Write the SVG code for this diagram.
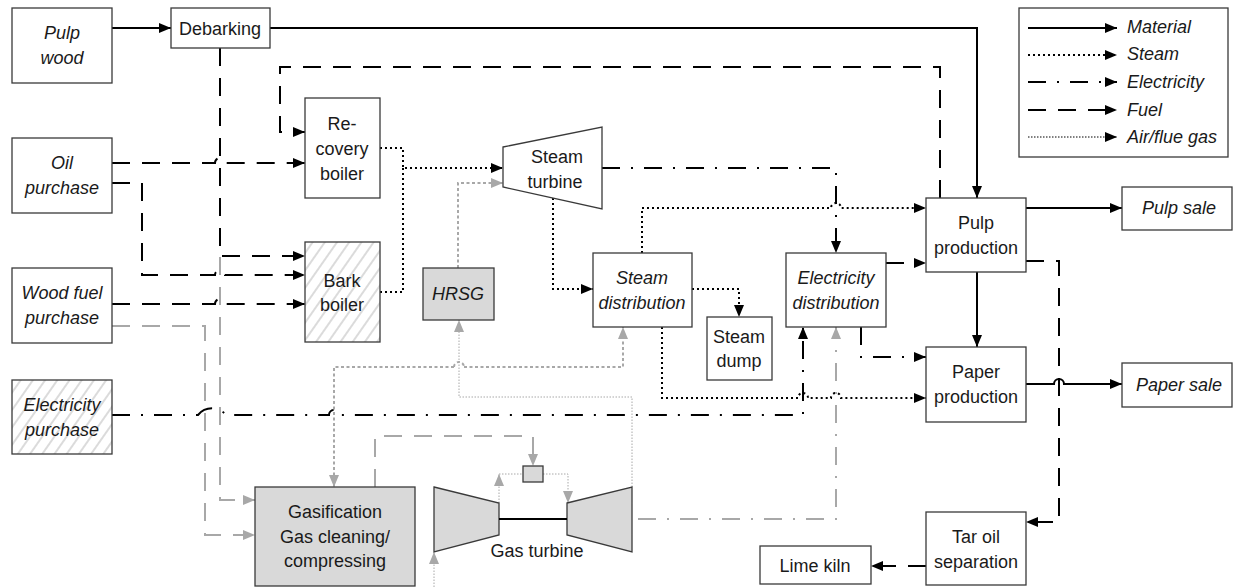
<svg xmlns="http://www.w3.org/2000/svg" width="1235" height="587" viewBox="0 0 1235 587">
<style>
.box{fill:#fff;stroke:#3a3a3a;stroke-width:1.3}
.gbox{fill:#d9d9d9;stroke:#3a3a3a;stroke-width:1.3}
.hbox{fill:url(#hatch);stroke:#3a3a3a;stroke-width:1.3}
.t{font-family:"Liberation Sans",Arial,sans-serif;font-size:18px;fill:#1a1a1a;text-anchor:middle}
.i{font-style:italic}
.l{text-anchor:start}
.c{fill:none;stroke-linejoin:miter}
.mat{stroke:#000;stroke-width:2}
.stm{stroke:#000;stroke-width:2;stroke-dasharray:2 3}
.gstm{stroke:#a8a8a8;stroke-width:2;stroke-dasharray:3 2.5}
.ele{stroke:#000;stroke-width:2;stroke-dasharray:18 11 2 11}
.fuel{stroke:#000;stroke-width:2;stroke-dasharray:18 12}
.air{stroke:#000;stroke-width:1;stroke-dasharray:1.5 1.5}
.g{stroke:#a8a8a8}
.ab{marker-end:url(#ab)}
.ag{marker-end:url(#ag)}
</style>
<defs>
<marker id="ab" markerUnits="userSpaceOnUse" markerWidth="12" markerHeight="10" refX="12" refY="5" orient="auto"><path d="M0,0 L12,5 L0,10 z" fill="#000"/></marker>
<marker id="ag" markerUnits="userSpaceOnUse" markerWidth="12" markerHeight="10" refX="12" refY="5" orient="auto"><path d="M0,0 L12,5 L0,10 z" fill="#a8a8a8"/></marker>
<pattern id="hatch" patternUnits="userSpaceOnUse" width="10" height="10" patternTransform="rotate(35)"><rect width="10" height="10" fill="#fff"/><path d="M5,0 L5,10" stroke="#b8b8b8" stroke-width="1"/></pattern>
</defs>
<rect width="1235" height="587" fill="#fff"/>

<g id="connectors">
<!-- material -->
<path class="c mat ab" d="M112,28 L171,28"/>
<path class="c mat ab" d="M270,28 L977,28 L977,198"/>
<path class="c mat ab" d="M1026,208 L1122,208"/>
<path class="c mat ab" d="M977,272 L977,347"/>
<path class="c mat ab" d="M1026,384 L1054,384 A5,5 0 0 1 1064,384 L1122,384"/>
<!-- steam -->
<path class="c stm ab" d="M380,148 L403,148 L403,168 L503,168"/>
<path class="c stm" d="M380,292 L403,292 L403,168"/>
<path class="c stm ab" d="M553,198 L553,289 L593,289"/>
<path class="c stm ab" d="M642,253 L642,208 L831,208 A5,5 0 0 1 841,208 L926,208"/>
<path class="c stm ab" d="M692,289 L739,289 L739,317"/>
<path class="c stm ab" d="M662,327 L662,398 L798,398 A5,5 0 0 1 808,398 L831,398 A5,5 0 0 1 841,398 L926,398"/>
<!-- gray steam -->
<path class="c gstm ag" d="M458,268 L458,183 L503,183"/>
<path class="c gstm ag" d="M454,367 L334,367 L334,487"/>
<path class="c gstm" d="M454,367 A5,5 0 0 1 464,367"/>
<path class="c gstm ag" d="M464,367 L623,367 L623,327"/>
<!-- electricity -->
<path class="c ele ab" d="M602,168 L836,168 L836,253"/>
<path class="c ele ab" d="M112,415 L198,415 A18,18 0 0 1 226,415 L329,415 A5,5 0 0 1 339,415 L803,415 L803,327"/>
<path class="c ele ab" d="M886,263 L926,263"/>
<path class="c ele ab" d="M861,327 L861,357 L926,357"/>
<path class="c ele g ag" d="M638,519 L836,519 L836,327"/>
<!-- fuel -->
<path class="c fuel ab" d="M220,48 L220,256 L305,256"/>
<path class="c fuel ab" d="M112,163 L215,163 A5,5 0 0 1 225,163 L305,163"/>
<path class="c fuel ab" d="M112,183 L142,183 L142,275 L215,275 A5,5 0 0 1 225,275 L305,275"/>
<path class="c fuel ab" d="M112,304 L215,304 A5,5 0 0 1 225,304 L305,304"/>
<path class="c fuel ab" d="M940,198 L940,67 L280,67 L280,132 L305,132"/>
<path class="c fuel ab" d="M1026,261 L1059,261 L1059,522 L1026,522"/>
<path class="c fuel ab" d="M926,566 L871,566"/>
<!-- gray fuel -->
<path class="c fuel g ag" d="M220,257 L220,500 L255,500"/>
<path class="c fuel g ag" d="M112,326 L205,326 L205,535 L255,535"/>
<path class="c fuel g ag" d="M375,487 L375,436 L533,436 L533,466"/>
<!-- air / flue gas -->
<path class="c air g ag" d="M632,487 L632,397 L459,397 L459,320"/>
<path class="c air g ag" d="M499,503 L499,474"/>
<path class="c air g" d="M499,474 L523,474"/>
<path class="c air g ag" d="M543,474 L568,474 L568,503"/>
<path class="c air g ag" d="M434,587 L434,552"/>
</g>

<g id="pulp-wood"><rect class="box" x="12" y="8" width="100" height="75"/><text class="t i" x="62" y="39">Pulp</text><text class="t i" x="62" y="64">wood</text></g>
<g id="debarking"><rect class="box" x="171" y="8" width="99" height="40"/><text class="t" x="220" y="35">Debarking</text></g>
<g id="oil-purchase"><rect class="box" x="12" y="138" width="100" height="75"/><text class="t i" x="62" y="169">Oil</text><text class="t i" x="62" y="194">purchase</text></g>
<g id="wood-fuel-purchase"><rect class="box" x="12" y="268" width="100" height="75"/><text class="t i" x="62" y="299">Wood fuel</text><text class="t i" x="62" y="324">purchase</text></g>
<g id="electricity-purchase"><rect class="hbox" x="12" y="380" width="100" height="74"/><text class="t i" x="62" y="411">Electricity</text><text class="t i" x="62" y="436">purchase</text></g>
<g id="recovery-boiler"><rect class="box" x="305" y="98" width="75" height="100"/><text class="t" x="342" y="130">Re-</text><text class="t" x="342" y="155">covery</text><text class="t" x="342" y="180">boiler</text></g>
<g id="bark-boiler"><rect class="hbox" x="305" y="242" width="75" height="100"/><text class="t" x="342" y="287">Bark</text><text class="t" x="342" y="311">boiler</text></g>
<g id="steam-turbine"><path class="box" d="M503,147 L602,127 L602,209 L503,187 Z"/><text class="t" x="557" y="163">Steam</text><text class="t" x="555" y="188">turbine</text></g>
<g id="hrsg"><rect class="gbox" x="423" y="268" width="71" height="52"/><text class="t i" x="458" y="300">HRSG</text></g>
<g id="steam-distribution"><rect class="box" x="593" y="253" width="99" height="74"/><text class="t i" x="642" y="284">Steam</text><text class="t i" x="642" y="309">distribution</text></g>
<g id="steam-dump"><rect class="box" x="707" y="317" width="65" height="63"/><text class="t" x="739" y="343">Steam</text><text class="t" x="739" y="367">dump</text></g>
<g id="electricity-distribution"><rect class="box" x="786" y="253" width="100" height="74"/><text class="t i" x="836" y="284">Electricity</text><text class="t i" x="836" y="309">distribution</text></g>
<g id="pulp-production"><rect class="box" x="926" y="198" width="100" height="74"/><text class="t" x="976" y="229">Pulp</text><text class="t" x="976" y="254">production</text></g>
<g id="paper-production"><rect class="box" x="926" y="347" width="100" height="75"/><text class="t" x="976" y="378">Paper</text><text class="t" x="976" y="403">production</text></g>
<g id="pulp-sale"><rect class="box" x="1122" y="187" width="110" height="43"/><text class="t i" x="1179" y="214">Pulp sale</text></g>
<g id="paper-sale"><rect class="box" x="1122" y="363" width="110" height="44"/><text class="t i" x="1179" y="391">Paper sale</text></g>
<g id="tar-oil-separation"><rect class="box" x="926" y="512" width="100" height="73"/><text class="t" x="976" y="543">Tar oil</text><text class="t" x="976" y="568">separation</text></g>
<g id="lime-kiln"><rect class="box" x="760" y="546" width="111" height="38"/><text class="t" x="815" y="572">Lime kiln</text></g>
<g id="gasification"><rect class="gbox" x="255" y="487" width="160" height="99"/><text class="t" x="335" y="518">Gasification</text><text class="t" x="335" y="543">Gas cleaning/</text><text class="t" x="335" y="567">compressing</text></g>
<g id="gas-turbine">
<path class="gbox" d="M434,487 L499,503 L499,535 L434,552 Z"/>
<path class="gbox" d="M567,503 L632,487 L632,552 L567,535 Z"/>
<path class="c mat" d="M499,519 L567,519"/>
<rect class="gbox" x="523" y="466" width="20" height="16"/>
<text class="t" x="537" y="557">Gas turbine</text>
</g>
<g id="legend">
<rect class="box" x="1019" y="8" width="209" height="149"/>
<path class="c mat ab" d="M1028,28 L1117,28"/>
<path class="c stm ab" d="M1028,55 L1117,55"/>
<path class="c ele ab" d="M1028,82 L1117,82"/>
<path class="c fuel ab" d="M1028,110 L1117,110"/>
<path class="c air ab" d="M1028,137 L1117,137"/>
<text class="t i l" x="1127" y="33">Material</text>
<text class="t i l" x="1127" y="60">Steam</text>
<text class="t i l" x="1127" y="88">Electricity</text>
<text class="t i l" x="1127" y="116">Fuel</text>
<text class="t i l" x="1127" y="143">Air/flue gas</text>
</g>
</svg>
